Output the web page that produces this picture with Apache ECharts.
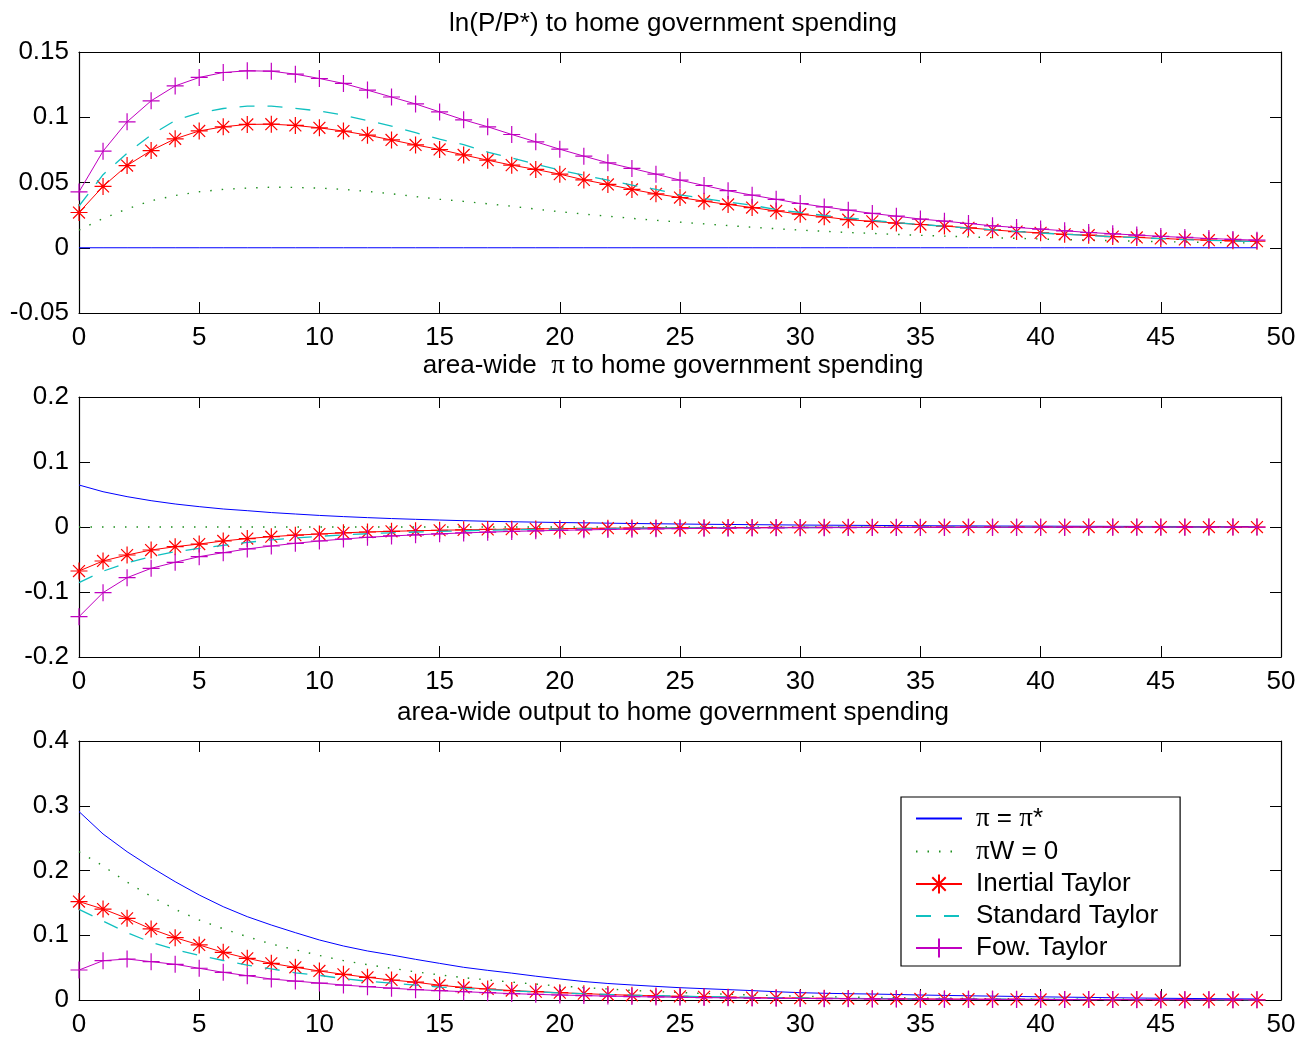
<!DOCTYPE html>
<html>
<head>
<meta charset="utf-8">
<script src="https://cdn.jsdelivr.net/npm/echarts@6/dist/echarts.min.js"></script>
<style>
html,body{margin:0;padding:0;background:#fff;}
#chart{width:1314px;height:1041px;}
</style>
</head>
<body>
<div id="chart"></div>
<script>
// ---------------- DATA ----------------
const periods = [0,1,2,3,4,5,6,7,8,9,10,11,12,13,14,15,16,17,18,19,20,21,22,23,24,25,26,27,28,29,30,31,32,33,34,35,36,37,38,39,40,41,42,43,44,45,46,47,48,49];
const seriesNames = ['π = π*', 'πW = 0', 'Inertial Taylor', 'Standard Taylor', 'Fow. Taylor'];
const panelTitles = ['ln(P/P*) to home government spending', 'area-wide  π to home government spending', 'area-wide output to home government spending'];

// Panel 1: ln(P/P*)
const p1Pi = [0,0,0,0,0,0,0,0,0,0,0,0,0,0,0,0,0,0,0,0,0,0,0,0,0,0,0,0,0,0,0,0,0,0,0,0,0,0,0,0,0,0,0,0,0,0,0,0,0,0];
const p1W = [0.0135,0.0224,0.0298,0.036,0.040,0.0429,0.0447,0.0457,0.0464,0.0462,0.0457,0.0447,0.0432,0.0414,0.0392,0.0372,0.0355,0.0337,0.0318,0.0296,0.0276,0.0258,0.0242,0.0225,0.0210,0.0196,0.0183,0.0170,0.0157,0.0146,0.0135,0.0126,0.0117,0.0110,0.0102,0.0095,0.0089,0.0083,0.0077,0.0072,0.0067,0.0062,0.0058,0.0054,0.0050,0.0047,0.0044,0.0041,0.0038,0.0036];
const p1Inertial = [0.027,0.047,0.063,0.0745,0.0835,0.0895,0.0927,0.0945,0.0947,0.0937,0.0919,0.0894,0.0863,0.0826,0.0788,0.0753,0.0711,0.0671,0.0633,0.0600,0.0564,0.0520,0.0485,0.0447,0.0413,0.0385,0.0357,0.0332,0.0308,0.0282,0.0257,0.0237,0.0215,0.0202,0.0189,0.0178,0.0166,0.0153,0.0137,0.0124,0.0114,0.0103,0.0096,0.0086,0.0079,0.0071,0.0064,0.0058,0.0053,0.0050];
const p1Standard = [0.032,0.056,0.0725,0.0865,0.0975,0.1034,0.1067,0.1085,0.1085,0.1068,0.1048,0.1016,0.0975,0.0932,0.0882,0.0832,0.0790,0.0733,0.0688,0.0640,0.0595,0.0556,0.0518,0.0480,0.0447,0.0405,0.0378,0.0350,0.0326,0.0292,0.0270,0.0247,0.0228,0.0210,0.0192,0.0178,0.0165,0.0151,0.0137,0.0125,0.0113,0.0103,0.0094,0.0085,0.0077,0.0070,0.0063,0.0057,0.0052,0.0048];
const p1Fow = [0.0428,0.074,0.0965,0.1126,0.124,0.1305,0.1343,0.1356,0.1353,0.133,0.1297,0.1259,0.1208,0.1155,0.1102,0.1041,0.0980,0.0927,0.0868,0.0812,0.0755,0.0702,0.0651,0.0608,0.0564,0.0518,0.0477,0.0437,0.0403,0.0371,0.0339,0.0313,0.0288,0.0263,0.0242,0.0220,0.0204,0.0186,0.0168,0.0155,0.0143,0.0130,0.0117,0.0107,0.0097,0.0087,0.0079,0.0071,0.0064,0.0058];

// Panel 2: area-wide inflation
const p2Pi = [0.0646,0.0543,0.0467,0.0405,0.0354,0.0313,0.0277,0.0251,0.0222,0.0200,0.0178,0.0160,0.0144,0.0130,0.0118,0.0107,0.0097,0.0088,0.0081,0.0075,0.0069,0.0064,0.0059,0.0054,0.0050,0.0046,0.0042,0.0039,0.0036,0.0033,0.0030,0.0028,0.0026,0.0024,0.0022,0.0020,0.0018,0.0017,0.0015,0.0014,0.0013,0.0012,0.0011,0.0010,0.0009,0.0008,0.0008,0.0007,0.0006,0.0006];
const p2W = [0,0,0,0,0,0,0,0,0,0,0,0,0,0,0,0,0,0,0,0,0,0,0,0,0,0,0,0,0,0,0,0,0,0,0,0,0,0,0,0,0,0,0,0,0,0,0,0,0,0];
const p2Inertial = [-0.0677,-0.0523,-0.0431,-0.0354,-0.0303,-0.0262,-0.0215,-0.0178,-0.0149,-0.0125,-0.0108,-0.0089,-0.0077,-0.0066,-0.0058,-0.0050,-0.0044,-0.0038,-0.0033,-0.0029,-0.0025,-0.0022,-0.0019,-0.0016,-0.0014,-0.0012,-0.0010,-0.0009,-0.0008,-0.0007,-0.0006,-0.0005,-0.0005,-0.0004,-0.0004,-0.0003,-0.0003,-0.0003,-0.0002,-0.0002,-0.0002,-0.0002,-0.0001,-0.0001,-0.0001,-0.0001,-0.0001,-0.0001,-0.0001,-0.0001];
const p2Standard = [-0.0856,-0.068,-0.055,-0.0455,-0.038,-0.033,-0.0282,-0.0238,-0.0198,-0.0168,-0.0143,-0.0122,-0.0104,-0.0089,-0.0077,-0.0067,-0.0058,-0.0050,-0.0043,-0.0037,-0.0032,-0.0028,-0.0024,-0.0021,-0.0018,-0.0015,-0.0013,-0.0011,-0.0010,-0.0009,-0.0008,-0.0007,-0.0006,-0.0005,-0.0005,-0.0004,-0.0004,-0.0003,-0.0003,-0.0003,-0.0002,-0.0002,-0.0002,-0.0002,-0.0001,-0.0001,-0.0001,-0.0001,-0.0001,-0.0001];
const p2Fow = [-0.138,-0.101,-0.078,-0.0636,-0.0543,-0.0456,-0.0395,-0.0338,-0.0292,-0.0251,-0.0215,-0.0185,-0.0159,-0.0138,-0.0121,-0.0105,-0.0091,-0.0079,-0.0068,-0.0059,-0.0051,-0.0044,-0.0038,-0.0033,-0.0028,-0.0024,-0.0021,-0.0018,-0.0015,-0.0013,-0.0011,-0.0010,-0.0009,-0.0008,-0.0007,-0.0006,-0.0005,-0.0005,-0.0004,-0.0004,-0.0003,-0.0003,-0.0003,-0.0002,-0.0002,-0.0002,-0.0002,-0.0001,-0.0001,-0.0001];

// Panel 3: area-wide output
const p3Pi = [0.291,0.2564,0.229,0.205,0.1827,0.1622,0.1441,0.1287,0.1158,0.104,0.0927,0.0834,0.0757,0.0695,0.0628,0.0566,0.0505,0.0458,0.0415,0.0368,0.0325,0.0285,0.0255,0.0232,0.0210,0.0190,0.0175,0.0160,0.0145,0.0128,0.0113,0.0104,0.0097,0.0092,0.0085,0.0077,0.0071,0.0065,0.0060,0.0055,0.0049,0.0044,0.0040,0.0035,0.0031,0.0027,0.0024,0.0021,0.0018,0.0016];
const p3W = [0.229,0.207,0.182,0.160,0.140,0.1236,0.110,0.0978,0.0865,0.0775,0.0688,0.0608,0.0545,0.0490,0.0435,0.0388,0.0345,0.0310,0.0276,0.0245,0.0216,0.0192,0.0170,0.0148,0.0130,0.0115,0.0101,0.0089,0.0077,0.0068,0.0059,0.0052,0.0045,0.0040,0.0035,0.0031,0.0027,0.0024,0.0021,0.0018,0.0016,0.0014,0.0012,0.0011,0.0010,0.0009,0.0008,0.0007,0.0006,0.0005];
const p3Inertial = [0.152,0.1405,0.1261,0.1097,0.0963,0.085,0.0736,0.0644,0.0566,0.0505,0.0448,0.0396,0.0350,0.0309,0.0275,0.0228,0.0194,0.0170,0.0146,0.0129,0.0113,0.0098,0.0084,0.0073,0.0063,0.0056,0.0050,0.0043,0.0037,0.0033,0.0029,0.0026,0.0023,0.0020,0.0018,0.0016,0.0014,0.0013,0.0011,0.0010,0.0009,0.0008,0.0007,0.0006,0.0006,0.0005,0.0005,0.0004,0.0004,0.0003];
const p3Standard = [0.140,0.122,0.104,0.089,0.078,0.069,0.061,0.054,0.048,0.042,0.038,0.033,0.029,0.026,0.023,0.020,0.018,0.016,0.014,0.0125,0.0110,0.0097,0.0086,0.0076,0.0067,0.0059,0.0052,0.0046,0.0041,0.0036,0.0032,0.0028,0.0025,0.0022,0.0020,0.0018,0.0016,0.0014,0.0012,0.0011,0.0010,0.0009,0.0008,0.0007,0.0006,0.0005,0.0005,0.0004,0.0004,0.0003];
const p3Fow = [0.0463,0.0607,0.0633,0.0592,0.0551,0.049,0.0427,0.0376,0.0324,0.0292,0.0262,0.0231,0.0206,0.0182,0.0160,0.0144,0.0129,0.0113,0.0099,0.0087,0.0077,0.0068,0.0060,0.0053,0.0047,0.0042,0.0037,0.0033,0.0029,0.0026,0.0023,0.0021,0.0019,0.0017,0.0015,0.0013,0.0012,0.0011,0.0010,0.0009,0.0008,0.0007,0.0006,0.0006,0.0005,0.0005,0.0004,0.0004,0.0003,0.0003];

const yMins = [-0.05, -0.2, 0];
const yMaxs = [0.15, 0.2, 0.4];
const yIntervals = [0.05, 0.1, 0.1];
const xMin = 0, xMax = 50, xInterval = 5;

// ---------------- STYLE ----------------
const FONT = 'Liberation Sans, Arial, Helvetica, sans-serif';
const SERIF = 'Liberation Serif, DejaVu Serif, serif';
const FS = 26;
const starPath = 'path://M10,0L10,20M0,10L20,10M3,3L17,17M3,17L17,3';
const plusPath = 'path://M10,0L10,20M0,10L20,10';
const CLEAR = 'rgba(0,0,0,0)';

const gridBoxes = [
  {left: 79, right: 33, top: 52, height: 261},
  {left: 79, right: 33, top: 397, height: 260},
  {left: 79, right: 33, top: 741, height: 259}
];

const panelData = [
  [p1Pi, p1W, p1Inertial, p1Standard, p1Fow],
  [p2Pi, p2W, p2Inertial, p2Standard, p2Fow],
  [p3Pi, p3W, p3Inertial, p3Standard, p3Fow]
];

const styleFor = [
  {lineStyle: {color: '#0000ff', width: 1, type: 'solid'}, symbol: 'none', color: CLEAR},
  {lineStyle: {color: '#1f8f1f', width: 1.4, type: [1.5, 10]}, symbol: 'none', color: CLEAR},
  {lineStyle: {color: '#ff0000', width: 1, type: 'solid'}, symbol: starPath, color: '#ff0000'},
  {lineStyle: {color: '#10c0c0', width: 1.3, type: [15, 13]}, symbol: 'none', color: CLEAR},
  {lineStyle: {color: '#c000c0', width: 1, type: 'solid'}, symbol: plusPath, color: '#c000c0'}
];

const xAxes = [], yAxes = [], series = [];
gridBoxes.forEach((g, gi) => {
  const tickCommon = {show: true, inside: true, length: 11, lineStyle: {color: '#000', width: 1}};
  const lineCommon = {show: true, onZero: false, lineStyle: {color: '#000', width: 1.2}};
  xAxes.push({
    type: 'value', gridIndex: gi, min: xMin, max: xMax, interval: xInterval, position: 'bottom',
    axisLine: lineCommon, axisTick: tickCommon, splitLine: {show: false},
    axisLabel: {show: true, color: '#000', fontSize: FS, fontFamily: FONT, margin: 12}
  });
  xAxes.push({
    type: 'value', gridIndex: gi, min: xMin, max: xMax, interval: xInterval, position: 'top',
    axisLine: lineCommon, axisTick: tickCommon, splitLine: {show: false}, axisLabel: {show: false}
  });
  yAxes.push({
    type: 'value', gridIndex: gi, min: yMins[gi], max: yMaxs[gi], interval: yIntervals[gi], position: 'left',
    axisLine: lineCommon, axisTick: tickCommon, splitLine: {show: false},
    axisLabel: {show: true, color: '#000', fontSize: FS, fontFamily: FONT, margin: 10,
      formatter: v => String(+v.toFixed(2))}
  });
  yAxes.push({
    type: 'value', gridIndex: gi, min: yMins[gi], max: yMaxs[gi], interval: yIntervals[gi], position: 'right',
    axisLine: lineCommon, axisTick: tickCommon, splitLine: {show: false}, axisLabel: {show: false}
  });
  panelData[gi].forEach((vals, si) => {
    const st = styleFor[si];
    series.push({
      type: 'line',
      name: seriesNames[si],
      xAxisIndex: gi * 2,
      yAxisIndex: gi * 2,
      data: periods.map((p, i) => [p, vals[i]]),
      symbol: st.symbol,
      symbolSize: 17,
      showSymbol: st.symbol !== 'none',
      showAllSymbol: true,
      lineStyle: st.lineStyle,
      itemStyle: {color: CLEAR, borderColor: st.color, borderWidth: 1.2},
      emphasis: {disabled: true},
      z: 2 + si,
      silent: true
    });
  });
});

const titleY = [24, 366, 713];
const graphics = panelTitles.map((t, i) => ({
  type: 'text', x: 673, y: titleY[i], z: 100,
  style: {
    text: t.replace(/π/g, '{pi|π}'),
    fill: '#000', fontSize: FS, fontFamily: FONT,
    align: 'center', verticalAlign: 'middle',
    rich: {pi: {fontFamily: SERIF, fontSize: FS + 1, fill: '#000'}}
  }
}));

const chart = echarts.init(document.getElementById('chart'), null, {renderer: 'canvas'});
chart.setOption({
  animation: false,
  backgroundColor: '#fff',
  grid: gridBoxes,
  xAxis: xAxes,
  yAxis: yAxes,
  series: series,
  graphic: graphics,
  legend: {
    show: true,
    data: seriesNames,
    orient: 'vertical',
    left: 901, top: 797,
    itemWidth: 46, itemHeight: 24, itemGap: 6,
    padding: [8, 22, 5, 14],
    backgroundColor: '#fff',
    borderColor: '#000', borderWidth: 1.2,
    selectedMode: false,
    formatter: name => name.replace(/π/g, '{pi|π}'),
    textStyle: {
      color: '#000', fontSize: FS, fontFamily: FONT, lineHeight: 24, padding: [0, 0, 0, 9],
      rich: {pi: {fontFamily: SERIF, fontSize: FS + 1, color: '#000', lineHeight: 24}}
    }
  }
});
</script>
</body>
</html>
